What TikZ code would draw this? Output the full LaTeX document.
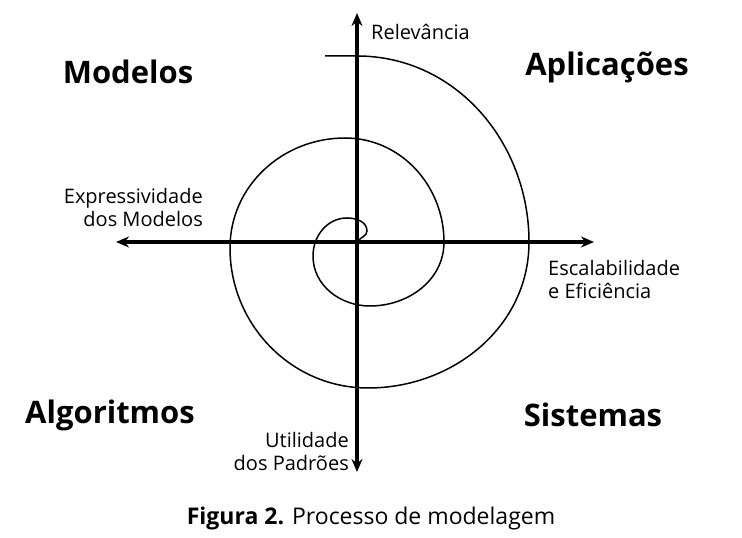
\documentclass[tikz,border=0pt]{standalone}
\usepackage{fontspec}
\setmainfont{Open Sans}
\usetikzlibrary{arrows.meta}
\begin{document}
\begin{tikzpicture}[x=1pt,y=1pt,
  axis/.style={line width=3.6pt,{Stealth[length=13pt,width=11pt]}-{Stealth[length=13pt,width=11pt]}},
  quad/.style={font=\fontsize{31}{34}\selectfont\bfseries},
  lab/.style={font=\fontsize{20}{23}\selectfont,inner sep=0pt}]
\useasboundingbox (0,0) rectangle (742,538);
\coordinate (c) at (357,296);
\coordinate (top) at (357,525);
\coordinate (bot) at (357,66);
\coordinate (lft) at (116,296);
\coordinate (rgt) at (594,296);
\draw[line width=1.5pt] (358,296) to[out=70,in=270] (367,307) to[out=90,in=0] (347,320)
  to[out=180,in=90] (313,282) to[out=270,in=180] (370,232) to[out=0,in=270] (444,296)
  to[out=90,in=0] (345,400) to[out=180,in=90] (230,290) to[out=270,in=180] (368,150)
  to[out=0,in=270] (529,296) to[out=90,in=0] (357,482) -- (325,482);
\draw[axis] (bot) -- (top);
\draw[axis] (lft) -- (rgt);
\node[quad] (m) at (128,466) {Modelos};
\node[quad] (a) at (607,471) {Aplicações};
\node[quad] (al) at (110,123) {Algoritmos};
\node[quad] (s) at (593,123) {Sistemas};
\node[lab,anchor=west] (r) at (371,506) {Relevância};
\node[lab,align=right,anchor=east] (e) at (203,330) {Expressividade\\dos Modelos};
\node[lab,align=left,anchor=west] (es) at (548,258) {Escalabilidade\\e Eficiência};
\node[lab,align=right,anchor=east] (u) at (349,86) {Utilidade\\dos Padrões};
\node[font=\fontsize{23}{26}\selectfont] (cap) at (371,19) {\textbf{Figura 2.} Processo de modelagem};
\end{tikzpicture}
\end{document}
